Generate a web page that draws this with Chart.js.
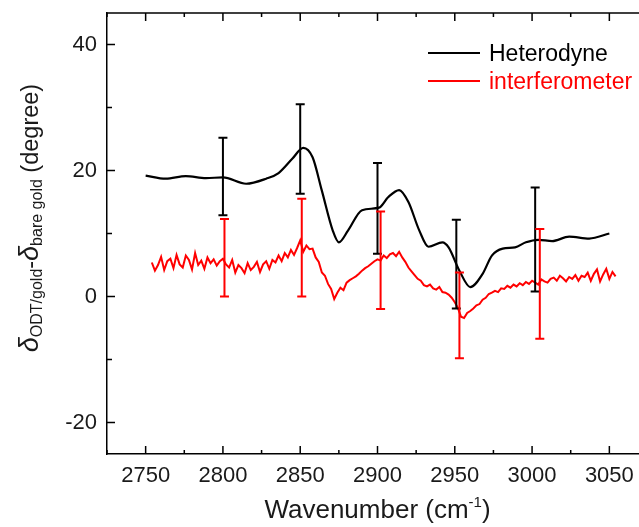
<!DOCTYPE html>
<html>
<head>
<meta charset="utf-8">
<script src="https://cdn.jsdelivr.net/npm/chart.js@4/dist/chart.umd.min.js"></script>
<style>
  html, body { margin: 0; padding: 0; background: #fff; overflow: hidden; }
  #wrap { width: 660px; height: 527px; }
</style>
</head>
<body>
<div id="wrap"><canvas id="c" width="660" height="527"></canvas></div>
<script>
// ---- data ----
const xTicks = [2750, 2800, 2850, 2900, 2950, 3000, 3050];
const xMinor = [2725, 2775, 2825, 2875, 2925, 2975, 3025];
const yTicks = [-20, 0, 20, 40];
const yMinor = [-10, 10, 30];

// Heterodyne (smooth black curve)
const hetX = [2750, 2763, 2776, 2789, 2800, 2815, 2828, 2836, 2845, 2852, 2858, 2864, 2871, 2875, 2881,
  2890, 2901, 2907, 2914, 2920, 2927, 2933, 2942, 2946, 2953, 2960, 2968, 2974, 2981, 2989, 2996, 3004,
  3013, 3024, 3037, 3050];
const hetY = [19.2, 18.7, 19.1, 18.8, 18.9, 17.9, 18.7, 19.6, 21.9, 23.6, 22.1, 16.8, 10.5, 8.6, 10.5,
  13.7, 14.1, 15.8, 16.9, 15.0, 10.5, 7.9, 8.6, 7.8, 4.1, 1.5, 3.6, 6.5, 7.6, 7.8, 8.6, 9.0,
  8.8, 9.5, 9.2, 10.0];

// interferometer (noisy red trace), one value every 2 cm-1 from 2754
const intStart = 2754;
const intStep = 2;
const intY = [
  5.4, 4.1, 5.0, 6.3, 4.2, 5.6, 6.0, 4.5, 6.6, 5.1,
  4.6, 6.5, 5.8, 4.3, 6.9, 5.0, 5.7, 4.4, 6.2, 5.3,
  5.9, 4.9, 5.6, 6.0, 5.1, 4.6, 5.8, 3.8, 5.0, 4.5,
  3.7, 5.3, 4.2, 4.7, 5.5, 3.9, 5.1, 5.6, 4.4, 5.8,
  5.4, 6.5, 5.6, 6.9, 6.2, 7.4, 6.6, 7.7, 8.9, 7.1,
  8.1, 7.5, 7.6, 6.2, 5.5, 3.8, 3.3, 2.0, 1.2, -0.4,
  0.6, 1.4, 1.0, 2.2, 2.6, 2.9, 3.2, 3.6, 4.1, 4.5,
  4.8, 5.2, 5.6, 5.9, 5.7, 6.5, 6.1, 6.7, 6.9, 6.4,
  7.1, 6.2, 5.5, 4.6, 4.0, 3.4, 2.8, 2.5, 1.8, 1.6,
  1.9, 1.3, 1.1, 1.5, 0.7, 0.6, 0.3, -0.2, -0.9, -1.8,
  -3.2, -3.4, -2.6, -2.3, -1.9, -1.4, -1.2, -0.5, -0.2, 0.4,
  0.6, 0.9, 0.7, 1.3, 1.2, 1.7, 1.4, 1.9, 1.6, 2.1,
  1.8, 2.3, 2.0, 2.5, 2.2, 1.9, 2.7, 2.4, 2.2, 2.8,
  3.0, 2.5, 3.3, 2.9, 2.4, 3.1, 2.8, 3.4, 2.5, 3.3,
  3.1, 3.8, 2.5, 3.6, 4.3, 2.4, 3.5, 4.4, 2.8, 3.9,
  3.2
];

// error bars
const hetErrX = [2800, 2850, 2900, 2951, 3002];
const hetErrLow = [12.9, 16.3, 6.8, -1.9, 0.8];
const hetErrHigh = [25.2, 30.5, 21.2, 12.2, 17.3];
const intErrX = [2801, 2851, 2902, 2953, 3005];
const intErrLow = [0.0, 0.0, -2.0, -9.8, -6.7];
const intErrHigh = [12.3, 15.5, 13.5, 3.8, 10.7];

const FONT = "'Liberation Sans', Arial, sans-serif";

const hetPoints = hetX.map((x, i) => ({ x, y: hetY[i] }));
const intPoints = intY.map((y, i) => ({ x: intStart + i * intStep, y }));

// ---- error bars, inward ticks, titles, legend ----
const chromePlugin = {
  id: "chrome",
  afterDatasetsDraw(chart) {
    const { ctx, scales: { x, y } } = chart;
    const drawBars = (xs, lo, hi, color) => {
      ctx.save();
      ctx.strokeStyle = color;
      ctx.lineWidth = 2;
      xs.forEach((v, i) => {
        const px = x.getPixelForValue(v);
        const p1 = y.getPixelForValue(lo[i]);
        const p2 = y.getPixelForValue(hi[i]);
        ctx.beginPath();
        ctx.moveTo(px, p1); ctx.lineTo(px, p2);
        ctx.moveTo(px - 4.5, p1); ctx.lineTo(px + 4.5, p1);
        ctx.moveTo(px - 4.5, p2); ctx.lineTo(px + 4.5, p2);
        ctx.stroke();
      });
      ctx.restore();
    };
    drawBars(hetErrX, hetErrLow, hetErrHigh, "#000");
    drawBars(intErrX, intErrLow, intErrHigh, "#ff0000");
  },
  afterDraw(chart) {
    const { ctx, chartArea: a, scales: { x, y } } = chart;
    ctx.save();
    ctx.strokeStyle = "#000";
    ctx.lineWidth = 1.5;
    // top + right frame
    ctx.beginPath();
    ctx.moveTo(a.left, a.top); ctx.lineTo(a.right, a.top); ctx.lineTo(a.right, a.bottom);
    ctx.stroke();
    // inward ticks
    ctx.beginPath();
    xTicks.forEach(v => {
      const px = x.getPixelForValue(v);
      ctx.moveTo(px, a.bottom); ctx.lineTo(px, a.bottom - 8);
      ctx.moveTo(px, a.top); ctx.lineTo(px, a.top + 8);
    });
    xMinor.forEach(v => {
      const px = x.getPixelForValue(v);
      ctx.moveTo(px, a.bottom); ctx.lineTo(px, a.bottom - 4);
      ctx.moveTo(px, a.top); ctx.lineTo(px, a.top + 4);
    });
    yTicks.forEach(v => {
      const py = y.getPixelForValue(v);
      ctx.moveTo(a.left, py); ctx.lineTo(a.left + 8, py);
    });
    yMinor.forEach(v => {
      const py = y.getPixelForValue(v);
      ctx.moveTo(a.left, py); ctx.lineTo(a.left + 5, py);
    });
    ctx.stroke();

    ctx.fillStyle = "#1a1a1a";
    ctx.textBaseline = "alphabetic";
    ctx.textAlign = "left";

    // x title: Wavenumber (cm^-1)
    const big = `26px ${FONT}`, small = `15px ${FONT}`;
    const xParts = [
      { t: "Wavenumber (cm", f: big, dy: 0 },
      { t: "-1", f: small, dy: -11 },
      { t: ")", f: big, dy: 0 },
    ];
    let w = 0;
    xParts.forEach(p => { ctx.font = p.f; p.w = ctx.measureText(p.t).width; w += p.w; });
    let cx = (a.left + a.right) / 2 - w / 2;
    xParts.forEach(p => { ctx.font = p.f; ctx.fillText(p.t, cx, 518 + p.dy); cx += p.w; });

    // y title: δ_ODT/gold - δ_bare gold (degree)
    const yParts = [
      { t: "\u03B4", f: `italic 27px ${FONT}`, dy: 0 },
      { t: "ODT/gold", f: `16px ${FONT}`, dy: 4 },
      { t: "-", f: `23.5px ${FONT}`, dy: 0 },
      { t: "\u03B4", f: `italic 27px ${FONT}`, dy: 0 },
      { t: "bare gold", f: `16px ${FONT}`, dy: 4 },
      { t: " (degree)", f: `23.5px ${FONT}`, dy: 0 },
    ];
    w = 0;
    yParts.forEach(p => { ctx.font = p.f; p.w = ctx.measureText(p.t).width; w += p.w; });
    ctx.save();
    ctx.translate(38, 218);
    ctx.rotate(-Math.PI / 2);
    cx = -w / 2;
    yParts.forEach(p => { ctx.font = p.f; ctx.fillText(p.t, cx, p.dy); cx += p.w; });
    ctx.restore();

    // legend
    ctx.font = `23px ${FONT}`;
    chart.data.datasets.forEach((ds, i) => {
      const ly = 53 + i * 28;
      ctx.strokeStyle = ds.borderColor;
      ctx.lineWidth = 2;
      ctx.beginPath(); ctx.moveTo(428, ly); ctx.lineTo(480, ly); ctx.stroke();
      ctx.fillStyle = ds.borderColor;
      ctx.fillText(ds.label, 489, ly + 8);
    });
    ctx.restore();
  },
};

new Chart(document.getElementById("c"), {
  type: "line",
  data: {
    datasets: [
      {
        label: "Heterodyne",
        data: hetPoints,
        borderColor: "#000000",
        borderWidth: 2.2,
        pointRadius: 0,
        cubicInterpolationMode: "monotone",
        fill: false,
      },
      {
        label: "interferometer",
        data: intPoints,
        borderColor: "#ff0000",
        borderWidth: 2,
        pointRadius: 0,
        tension: 0,
        fill: false,
      },
    ],
  },
  options: {
    responsive: false,
    animation: false,
    layout: { padding: { top: 13, right: 12, left: 0, bottom: 0 } },
    plugins: { legend: { display: false }, tooltip: { enabled: false } },
    scales: {
      x: {
        type: "linear",
        min: 2725,
        max: 3075,
        afterBuildTicks: (s) => { s.ticks = xTicks.map(v => ({ value: v })); },
        afterFit: (s) => { s.height = 73; s.paddingLeft = 0; s.paddingRight = 0; },
        grid: { display: false, drawTicks: false },
        border: { display: true, color: "#000", width: 1.5 },
        ticks: {
          font: { family: FONT, size: 22 }, color: "#1a1a1a", padding: 9,
          maxRotation: 0, autoSkip: false, callback: (v) => String(v),
        },
      },
      y: {
        min: -25,
        max: 45,
        afterBuildTicks: (s) => { s.ticks = yTicks.map(v => ({ value: v })); },
        afterFit: (s) => { s.width = 107; s.paddingTop = 0; s.paddingBottom = 0; },
        grid: { display: false, drawTicks: false },
        border: { display: true, color: "#000", width: 1.5 },
        ticks: { font: { family: FONT, size: 22 }, color: "#1a1a1a", padding: 10, callback: (v) => String(v) },
      },
    },
  },
  plugins: [chromePlugin],
});
</script>
</body>
</html>
